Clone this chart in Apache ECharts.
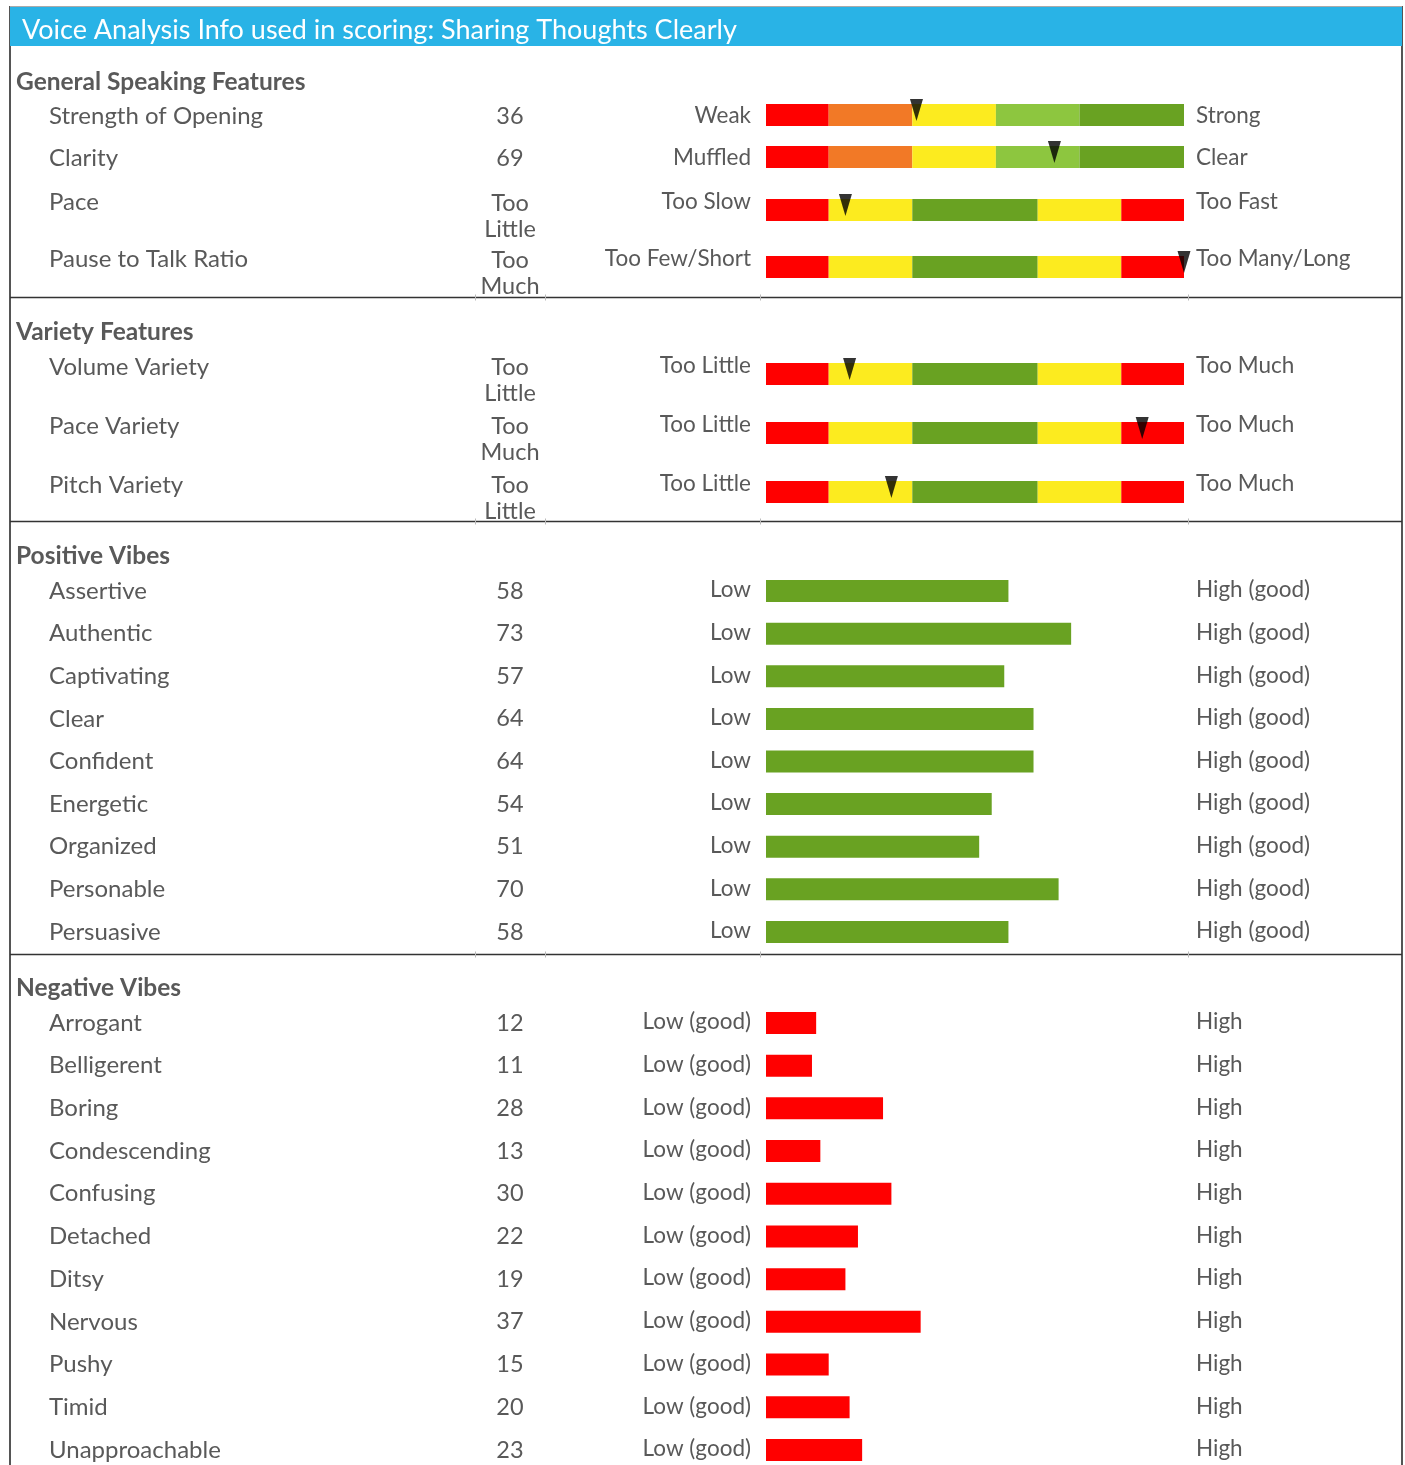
<!DOCTYPE html>
<html><head><meta charset="utf-8">
<script src="https://cdn.jsdelivr.net/npm/echarts@6/dist/echarts.min.js"></script>
<style>html,body{margin:0;padding:0;background:#fff}#c{width:1405px;height:1465px}</style>
</head><body><div id="c"></div>
<script>
const titleText = 'Voice Analysis Info used in scoring: Sharing Thoughts Clearly';
const sectionTitles = ['General Speaking Features', 'Variety Features', 'Positive Vibes', 'Negative Vibes'];

// General speaking features (two blocks because of row heights)
const genALabels = ['Strength of Opening', 'Clarity'];
const genAValues = ['36', '69'];
const genALow = ['Weak', 'Muffled'];
const genAHigh = ['Strong', 'Clear'];
const genAMarkers = [36, 69];

const genBLabels = ['Pace', 'Pause to Talk Ratio'];
const genBValues = ['Too\nLittle', 'Too\nMuch'];
const genBLow = ['Too Slow', 'Too Few/Short'];
const genBHigh = ['Too Fast', 'Too Many/Long'];
const genBMarkers = [19, 100];

const varLabels = ['Volume Variety', 'Pace Variety', 'Pitch Variety'];
const varValues = ['Too\nLittle', 'Too\nMuch', 'Too\nLittle'];
const varLow = ['Too Little', 'Too Little', 'Too Little'];
const varHigh = ['Too Much', 'Too Much', 'Too Much'];
const varMarkers = [20, 90, 30];

const fiveZoneBands = [15, 20, 20, 20, 25];
const threeZoneBands = [15, 20, 30, 20, 15];

const posLabels = ['Assertive', 'Authentic', 'Captivating', 'Clear', 'Confident', 'Energetic', 'Organized', 'Personable', 'Persuasive'];
const posValues = [58, 73, 57, 64, 64, 54, 51, 70, 58];
const posLow = posLabels.map(() => 'Low');
const posHigh = posLabels.map(() => 'High (good)');

const negLabels = ['Arrogant', 'Belligerent', 'Boring', 'Condescending', 'Confusing', 'Detached', 'Ditsy', 'Nervous', 'Pushy', 'Timid', 'Unapproachable'];
const negValues = [12, 11, 28, 13, 30, 22, 19, 37, 15, 20, 23];
const negLow = negLabels.map(() => 'Low (good)');
const negHigh = negLabels.map(() => 'High');

const FONT = 'Lato, "Open Sans", sans-serif';
const TXT = '#595959';
const RED = '#FF0000', ORANGE = '#F27926', YELLOW = '#FCEB1F', LGREEN = '#8DC63F', DGREEN = '#69A222';
const fiveColors = [RED, ORANGE, YELLOW, LGREEN, DGREEN];
const threeColors = [RED, YELLOW, DGREEN, YELLOW, RED];

const LEFT = 766, RIGHT = 221, W = 1405;
const grids = [], xAxis = [], yAxis = [], series = [];

function newGrid(top, height) {
  const gi = grids.length;
  grids.push({left: LEFT, right: RIGHT, top: top, height: height, outerBoundsMode: 'none', containLabel: false});
  xAxis.push({type: 'value', gridIndex: gi, min: 0, max: 100, show: false});
  return gi;
}
function textAxis(sec, shift, cats, texts, pos, margin, align, size, lh) {
  const gi = newGrid(sec.top + shift, sec.height);
  yAxis.push({
    type: 'category', gridIndex: gi, data: cats, inverse: true, position: pos,
    axisLine: {show: false}, axisTick: {show: false}, splitLine: {show: false},
    axisLabel: {
      interval: 0, margin: margin, align: align, verticalAlign: 'middle', color: TXT,
      fontFamily: FONT, fontSize: size, lineHeight: lh, formatter: (v, i) => String(texts[i])
    }
  });
}
function section(sec, cats, values, low, high, sh) {
  const gi = newGrid(sec.top, sec.height);
  const yi = yAxis.length;
  yAxis.push({type: 'category', gridIndex: gi, data: cats, inverse: true, show: false});
  textAxis(sec, sh[0], cats, cats, 'left', LEFT - 49, 'left', 24, 28);
  textAxis(sec, sh[1], cats, values, 'left', LEFT - 510, 'center', 23.5, 26);
  textAxis(sec, sh[2], cats, low, 'left', LEFT - 751, 'right', 22.5, 28);
  textAxis(sec, sh[3], cats, high, 'right', 1196 - (W - RIGHT), 'left', 22.5, 28);
  return {gi, yi};
}
function addScale(ax, bands, colors, markers, n) {
  bands.forEach((w, k) => {
    series.push({
      type: 'bar', xAxisIndex: ax.gi, yAxisIndex: ax.yi, stack: 'st' + ax.gi, barWidth: 22,
      data: Array.from({length: n}, () => w), itemStyle: {color: colors[k]}, silent: true
    });
  });
  series.push({
    type: 'scatter', xAxisIndex: ax.gi, yAxisIndex: ax.yi, clip: false, z: 10,
    data: markers.map((v, i) => [v, i]), symbol: 'triangle', symbolRotate: 180,
    symbolSize: [13, 22], symbolOffset: [0, -5], itemStyle: {color: '#000'}
  });
}
function addBars(ax, vals, color) {
  series.push({
    type: 'bar', xAxisIndex: ax.gi, yAxisIndex: ax.yi, barWidth: 22,
    data: vals, itemStyle: {color: color}, silent: true
  });
}

const secA = {top: 94, height: 84};
const secB = {top: 181.5, height: 114};
const secC = {top: 344.5, height: 177};
const secD = {top: 569.7, height: 383.6};
const secE = {top: 1001.6, height: 469.7};

addScale(section(secA, genALabels, genAValues, genALow, genAHigh, [1, 1, 1, 1]), fiveZoneBands, fiveColors, genAMarkers, genALabels.length);
addScale(section(secB, genBLabels, genBValues, genBLow, genBHigh, [-8, 6, -8, -8]), threeZoneBands, threeColors, genBMarkers, genBLabels.length);
addScale(section(secC, varLabels, varValues, varLow, varHigh, [-7, 6.5, -8, -8]), threeZoneBands, threeColors, varMarkers, varLabels.length);
addBars(section(secD, posLabels, posValues, posLow, posHigh, [0, 0, -1, -1]), posValues, DGREEN);
addBars(section(secE, negLabels, negValues, negLow, negHigh, [0, 0, -1, -1]), negValues, RED);

const sectionY = [82, 332, 556, 988];
const graphic = [
  {type: 'rect', shape: {x: 10, y: 7, width: 1392, height: 39}, style: {fill: '#29B3E6'}, z: 1},
  {type: 'text', x: 22, y: 30, style: {text: titleText, fill: '#fff', font: '27px ' + FONT, textVerticalAlign: 'middle'}, z: 2},
  {type: 'line', shape: {x1: 10, y1: 6, x2: 10, y2: 1465}, style: {stroke: '#555', lineWidth: 2}},
  {type: 'line', shape: {x1: 1402, y1: 6, x2: 1402, y2: 1465}, style: {stroke: '#555', lineWidth: 2}},
  {type: 'line', shape: {x1: 10, y1: 6.5, x2: 1402, y2: 6.5}, style: {stroke: '#aaa', lineWidth: 1}}
];
[297.5, 521.5, 954.5].forEach(y => {
  graphic.push({type: 'line', shape: {x1: 10, y1: y, x2: 1402, y2: y}, style: {stroke: '#333', lineWidth: 1.5}});
  [475, 545, 760, 1188].forEach(x => graphic.push({type: 'line', shape: {x1: x + 0.5, y1: y - 3, x2: x + 0.5, y2: y + 3}, style: {stroke: '#bbb', lineWidth: 1}}));
});
sectionTitles.forEach((t, i) => graphic.push({
  type: 'text', x: 16, y: sectionY[i],
  style: {text: t, fill: TXT, font: 'bold 24.5px ' + FONT, textVerticalAlign: 'middle'}
}));

const chart = echarts.init(document.getElementById('c'), null, {renderer: 'canvas'});
chart.setOption({animation: false, grid: grids, xAxis, yAxis, series, graphic});
</script></body></html>
